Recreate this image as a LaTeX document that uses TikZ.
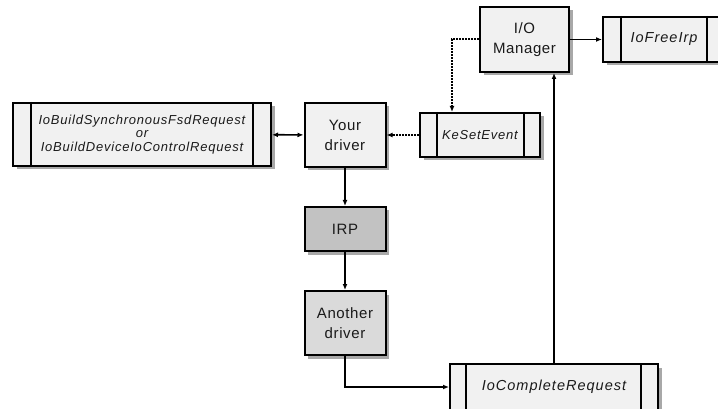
\documentclass[tikz,border=0pt]{standalone}
\usepackage{fontspec}
\setmainfont{Liberation Sans}
\usetikzlibrary{shadows,arrows.meta}
\definecolor{boxfill}{HTML}{F1F1F1}
\definecolor{irpfill}{HTML}{C2C2C2}
\definecolor{drvfill}{HTML}{DADADA}
\definecolor{shadowgray}{HTML}{A8A8A8}
\definecolor{ink}{HTML}{1A1A1A}
\tikzset{
  base/.style={draw=black, line width=2pt, inner sep=0pt, align=center, text=ink,
    drop shadow={fill=shadowgray, opacity=1, shadow xshift=3.5pt, shadow yshift=-3.5pt}},
  procbox/.style={base, fill=boxfill, font=\fontsize{15}{20}\selectfont\addfontfeatures{LetterSpace=4}},
  funcbox/.style={base, fill=boxfill, font=\fontsize{13}{14}\itshape\selectfont\addfontfeatures{LetterSpace=6}},
  bigfunc/.style={font=\fontsize{14.5}{16}\itshape\selectfont\addfontfeatures{LetterSpace=7}},
  functext/.style={inner sep=0pt, text=ink, bigfunc},
  tip/.tip={Latex[length=6pt,width=5pt]},
  flow/.style={line width=1.7pt, -tip},
  notify/.style={line width=2pt, dash pattern=on 1.6pt off 1.4pt, -tip},
}
% vertical bars marking a library routine box
\newcommand{\sidebars}[3]{%
  \draw[line width=2pt] ([xshift=#2pt]#1.north west) -- ([xshift=#2pt]#1.south west);
  \draw[line width=2pt] ([xshift=-#3pt]#1.north east) -- ([xshift=-#3pt]#1.south east);}
\begin{document}
\begin{tikzpicture}[x=1pt, y=-1pt]
\useasboundingbox (0,0) rectangle (718,409);

\node[funcbox, minimum width=258pt, minimum height=63pt] (iob) at (142,134.5)
  {IoBuildSynchronousFsdRequest\\[-0.5pt]or\\[-0.5pt]IoBuildDeviceIoControlRequest};
\node[procbox, minimum width=81pt, minimum height=64pt] (your) at (345,135) {Your\\driver};
\node[funcbox, minimum width=120pt, minimum height=44pt] (kse) at (480,135) {KeSetEvent};
\node[procbox, minimum width=89pt, minimum height=65pt] (iom) at (524.5,39.5) {I/O\\Manager};
\node[funcbox, minimum width=130pt, minimum height=45pt] (ifi) at (668,39.5) {};
\node[functext] (ifitext) at (664,39.5) {IoFreeIrp};
\node[procbox, fill=irpfill, minimum width=81pt, minimum height=44pt] (irp) at (345,229) {IRP};
\node[procbox, fill=drvfill, minimum width=81pt, minimum height=64pt] (ano) at (345,323) {Another\\driver};
\node[funcbox, bigfunc, minimum width=208pt, minimum height=46pt] (icr) at (554,387) {IoCompleteRequest};

\sidebars{iob}{19}{19}
\sidebars{kse}{18}{17}
\sidebars{ifi}{19}{27}
\sidebars{icr}{17}{18}

% request construction and the IRP's path down the stack
\draw[line width=1.7pt, tip-tip] (iob) -- (your);
\draw[flow] (your) -- (irp);
\draw[flow] (irp) -- (ano);
\draw[flow] (ano.south) |- (icr.west);
\draw[flow] (icr.north) -- (icr.north |- iom.south);
\draw[flow] (iom) -- (ifi);

% event signalling back to the waiting driver
\coordinate (bend) at (452,39.5);
\draw[notify] (iom.west) -- (bend) -- (bend |- kse.north);
\draw[notify] (kse) -- (your);
\end{tikzpicture}
\end{document}
